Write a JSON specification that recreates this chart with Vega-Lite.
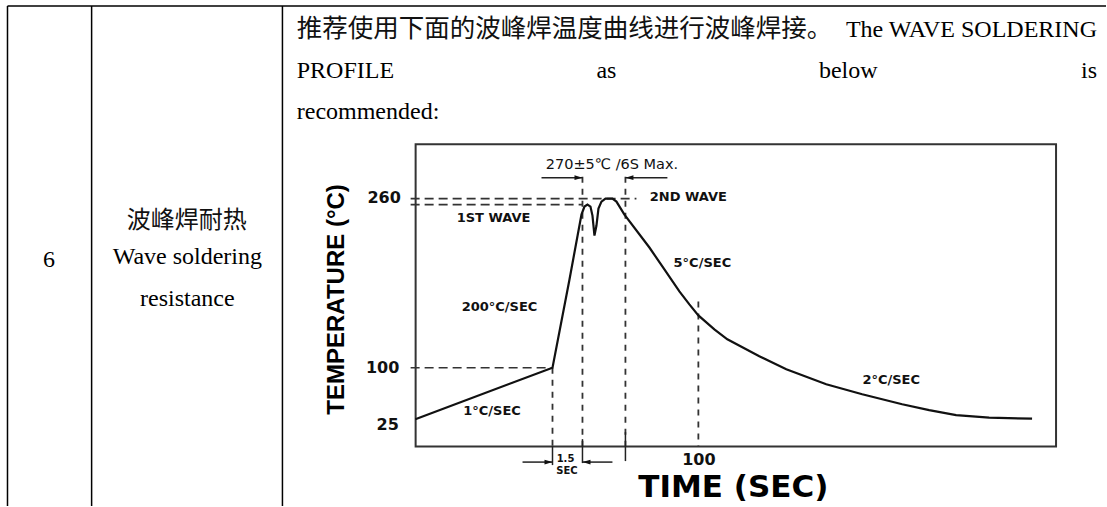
{
  "$schema": "https://vega.github.io/schema/vega-lite/v6.json",
  "width": 1107,
  "height": 507,
  "autosize": {"type": "fit", "contains": "padding"},
  "padding": 0,
  "background": "white",
  "config": {"view": {"stroke": null}},
  "datasets": {
    "curve": [
      {"x": 415.7, "y": 420}, {"x": 553, "y": 368.5}, {"x": 570, "y": 280}, {"x": 582, "y": 215},
      {"x": 585, "y": 207}, {"x": 588, "y": 205}, {"x": 591, "y": 207}, {"x": 593, "y": 216},
      {"x": 595, "y": 236}, {"x": 597, "y": 226}, {"x": 599, "y": 209}, {"x": 602, "y": 202},
      {"x": 606, "y": 199}, {"x": 613, "y": 199}, {"x": 617, "y": 202}, {"x": 625, "y": 215},
      {"x": 650, "y": 248}, {"x": 665, "y": 270}, {"x": 680, "y": 292}, {"x": 690, "y": 305},
      {"x": 699, "y": 316}, {"x": 715, "y": 330}, {"x": 728, "y": 340}, {"x": 760, "y": 357},
      {"x": 787, "y": 370}, {"x": 827, "y": 385}, {"x": 863, "y": 395}, {"x": 903, "y": 405},
      {"x": 930, "y": 411}, {"x": 957, "y": 416}, {"x": 990, "y": 418.5}, {"x": 1033, "y": 419.5}
    ],
    "frame": [{"x": 416, "y": 144.5, "x2": 1057, "y2": 447.5}],
    "rules": [
      {"kind": "table", "x": 7.5, "y": 6, "x2": 1107, "y2": 6},
      {"kind": "table", "x": 7.5, "y": 6, "x2": 7.5, "y2": 507},
      {"kind": "table", "x": 91.7, "y": 6, "x2": 91.7, "y2": 507},
      {"kind": "table", "x": 282.7, "y": 6, "x2": 282.7, "y2": 507},
      {"kind": "dashH", "x": 411, "y": 199, "x2": 637, "y2": 199},
      {"kind": "dashH", "x": 411, "y": 205, "x2": 583, "y2": 205},
      {"kind": "dashH", "x": 411, "y": 368.5, "x2": 553, "y2": 368.5},
      {"kind": "dashV", "x": 553, "y": 368.5, "x2": 553, "y2": 447},
      {"kind": "dashV", "x": 583, "y": 177, "x2": 583, "y2": 447},
      {"kind": "dashV", "x": 626, "y": 177, "x2": 626, "y2": 447},
      {"kind": "dashV", "x": 699, "y": 302, "x2": 699, "y2": 447},
      {"kind": "solid", "x": 553, "y": 447, "x2": 553, "y2": 466},
      {"kind": "solid", "x": 583, "y": 440, "x2": 583, "y2": 464},
      {"kind": "solid", "x": 626, "y": 433, "x2": 626, "y2": 462},
      {"kind": "solid", "x": 542, "y": 178, "x2": 583, "y2": 178},
      {"kind": "solid", "x": 626, "y": 178, "x2": 668, "y2": 178},
      {"kind": "solid", "x": 523, "y": 463, "x2": 553, "y2": 463},
      {"kind": "solid", "x": 583, "y": 463, "x2": 613, "y2": 463}
    ],
    "arrows": [
      {"dir": "right", "x": 583, "y": 178},
      {"dir": "right", "x": 553, "y": 463},
      {"dir": "left", "x": 626, "y": 178},
      {"dir": "left", "x": 583, "y": 463}
    ],
    "labels": [
      {"role": "serif_c", "x": 49, "y": 268, "text": "6"},
      {"role": "serif_c", "x": 187.5, "y": 265, "text": "Wave soldering"},
      {"role": "serif_c", "x": 187.5, "y": 307, "text": "resistance"},
      {"role": "serif_c", "x": 607, "y": 78, "text": "as"},
      {"role": "serif_c", "x": 849, "y": 78, "text": "below"},
      {"role": "serif_l", "x": 297, "y": 78, "text": "PROFILE"},
      {"role": "serif_l", "x": 297, "y": 119, "text": "recommended:"},
      {"role": "serif_r", "x": 1098, "y": 37, "text": "The WAVE SOLDERING"},
      {"role": "serif_r", "x": 1098, "y": 78, "text": "is"},
      {"role": "cjk_l", "x": 297, "y": 37, "text": "推荐使用下面的波峰焊温度曲线进行波峰焊接。"},
      {"role": "cjk_c", "x": 187, "y": 228, "text": "波峰焊耐热"},
      {"role": "tick", "x": 384.5, "y": 198, "text": "260"},
      {"role": "tick", "x": 383, "y": 368.5, "text": "100"},
      {"role": "tick", "x": 388, "y": 425.5, "text": "25"},
      {"role": "tick", "x": 699.5, "y": 461, "text": "100"},
      {"role": "note", "x": 494, "y": 218.5, "text": "1ST WAVE"},
      {"role": "note", "x": 689, "y": 197.5, "text": "2ND WAVE"},
      {"role": "note", "x": 500, "y": 307.5, "text": "200°C/SEC"},
      {"role": "note", "x": 492.5, "y": 411.5, "text": "1°C/SEC"},
      {"role": "note", "x": 703, "y": 264, "text": "5°C/SEC"},
      {"role": "note", "x": 892, "y": 380.5, "text": "2°C/SEC"},
      {"role": "note_small", "x": 566, "y": 459.5, "text": "1.5"},
      {"role": "note_small", "x": 567.5, "y": 471.5, "text": "SEC"},
      {"role": "note_reg", "x": 612.5, "y": 165, "text": "270±5℃ /6S Max."},
      {"role": "xtitle", "x": 734, "y": 489, "text": "TIME (SEC)"},
      {"role": "ytitle", "x": 337, "y": 300, "text": "TEMPERATURE (°C)"}
    ]
  },
  "encoding": {
    "x": {"field": "x", "type": "quantitative", "scale": {"domain": [0, 1107], "nice": false, "zero": false}, "axis": null},
    "y": {"field": "y", "type": "quantitative", "scale": {"domain": [0, 507], "nice": false, "zero": false, "reverse": true}, "axis": null}
  },
  "layer": [
    {
      "data": {"name": "rules"},
      "transform": [{"filter": "datum.kind === 'table'"}],
      "mark": {"type": "rule", "color": "#000", "strokeWidth": 1.5},
      "encoding": {"x2": {"field": "x2"}, "y2": {"field": "y2"}}
    },
    {
      "data": {"name": "frame"},
      "mark": {"type": "rect", "filled": false, "stroke": "#333", "strokeWidth": 2},
      "encoding": {"x2": {"field": "x2"}, "y2": {"field": "y2"}}
    },
    {
      "data": {"name": "rules"},
      "transform": [{"filter": "datum.kind === 'dashH'"}],
      "mark": {"type": "rule", "color": "#333", "strokeWidth": 1.6, "strokeDash": [9, 5]},
      "encoding": {"x2": {"field": "x2"}, "y2": {"field": "y2"}}
    },
    {
      "data": {"name": "rules"},
      "transform": [{"filter": "datum.kind === 'dashV'"}],
      "mark": {"type": "rule", "color": "#333", "strokeWidth": 1.8, "strokeDash": [6, 6]},
      "encoding": {"x2": {"field": "x2"}, "y2": {"field": "y2"}}
    },
    {
      "data": {"name": "rules"},
      "transform": [{"filter": "datum.kind === 'solid'"}],
      "mark": {"type": "rule", "color": "#222", "strokeWidth": 1.5},
      "encoding": {"x2": {"field": "x2"}, "y2": {"field": "y2"}}
    },
    {
      "data": {"name": "arrows"},
      "transform": [{"filter": "datum.dir === 'right'"}],
      "mark": {"type": "point", "shape": "M0,0L-2,-0.6L-2,0.6Z", "size": 64, "filled": true, "color": "#111", "opacity": 1}
    },
    {
      "data": {"name": "arrows"},
      "transform": [{"filter": "datum.dir === 'left'"}],
      "mark": {"type": "point", "shape": "M0,0L2,-0.6L2,0.6Z", "size": 64, "filled": true, "color": "#111", "opacity": 1}
    },
    {
      "data": {"name": "curve"},
      "mark": {"type": "line", "color": "#111", "strokeWidth": 2.2, "interpolate": "linear"}
    },
    {
      "data": {"name": "labels"},
      "transform": [{"filter": "datum.role === 'serif_c'"}],
      "mark": {"type": "text", "font": "Liberation Serif", "fontSize": 24, "align": "center", "baseline": "alphabetic", "color": "#000"},
      "encoding": {"text": {"field": "text"}}
    },
    {
      "data": {"name": "labels"},
      "transform": [{"filter": "datum.role === 'serif_l'"}],
      "mark": {"type": "text", "font": "Liberation Serif", "fontSize": 24, "align": "left", "baseline": "alphabetic", "color": "#000"},
      "encoding": {"text": {"field": "text"}}
    },
    {
      "data": {"name": "labels"},
      "transform": [{"filter": "datum.role === 'serif_r'"}],
      "mark": {"type": "text", "font": "Liberation Serif", "fontSize": 24, "align": "right", "baseline": "alphabetic", "color": "#000"},
      "encoding": {"text": {"field": "text"}}
    },
    {
      "data": {"name": "labels"},
      "transform": [{"filter": "datum.role === 'cjk_l'"}],
      "mark": {"type": "text", "font": "Noto Sans CJK SC", "fontSize": 25.5, "align": "left", "baseline": "alphabetic", "color": "#111"},
      "encoding": {"text": {"field": "text"}}
    },
    {
      "data": {"name": "labels"},
      "transform": [{"filter": "datum.role === 'cjk_c'"}],
      "mark": {"type": "text", "font": "Noto Sans CJK SC", "fontSize": 24, "align": "center", "baseline": "alphabetic", "color": "#111"},
      "encoding": {"text": {"field": "text"}}
    },
    {
      "data": {"name": "labels"},
      "transform": [{"filter": "datum.role === 'tick'"}],
      "mark": {"type": "text", "font": "DejaVu Sans", "fontWeight": "bold", "fontSize": 16, "align": "center", "baseline": "middle", "color": "#111"},
      "encoding": {"text": {"field": "text"}}
    },
    {
      "data": {"name": "labels"},
      "transform": [{"filter": "datum.role === 'note'"}],
      "mark": {"type": "text", "font": "DejaVu Sans", "fontWeight": "bold", "fontSize": 13, "align": "center", "baseline": "middle", "color": "#111"},
      "encoding": {"text": {"field": "text"}}
    },
    {
      "data": {"name": "labels"},
      "transform": [{"filter": "datum.role === 'note_small'"}],
      "mark": {"type": "text", "font": "DejaVu Sans", "fontWeight": "bold", "fontSize": 10, "align": "center", "baseline": "middle", "color": "#111"},
      "encoding": {"text": {"field": "text"}}
    },
    {
      "data": {"name": "labels"},
      "transform": [{"filter": "datum.role === 'note_reg'"}],
      "mark": {"type": "text", "font": "DejaVu Sans", "fontWeight": "normal", "fontSize": 14.5, "align": "center", "baseline": "middle", "color": "#111"},
      "encoding": {"text": {"field": "text"}}
    },
    {
      "data": {"name": "labels"},
      "transform": [{"filter": "datum.role === 'xtitle'"}],
      "mark": {"type": "text", "font": "DejaVu Sans", "fontWeight": "bold", "fontSize": 31, "align": "center", "baseline": "middle", "color": "#000"},
      "encoding": {"text": {"field": "text"}}
    },
    {
      "data": {"name": "labels"},
      "transform": [{"filter": "datum.role === 'ytitle'"}],
      "mark": {"type": "text", "font": "Liberation Sans", "fontWeight": "bold", "fontSize": 24, "angle": 270, "align": "center", "baseline": "middle", "color": "#000"},
      "encoding": {"text": {"field": "text"}}
    }
  ]
}
